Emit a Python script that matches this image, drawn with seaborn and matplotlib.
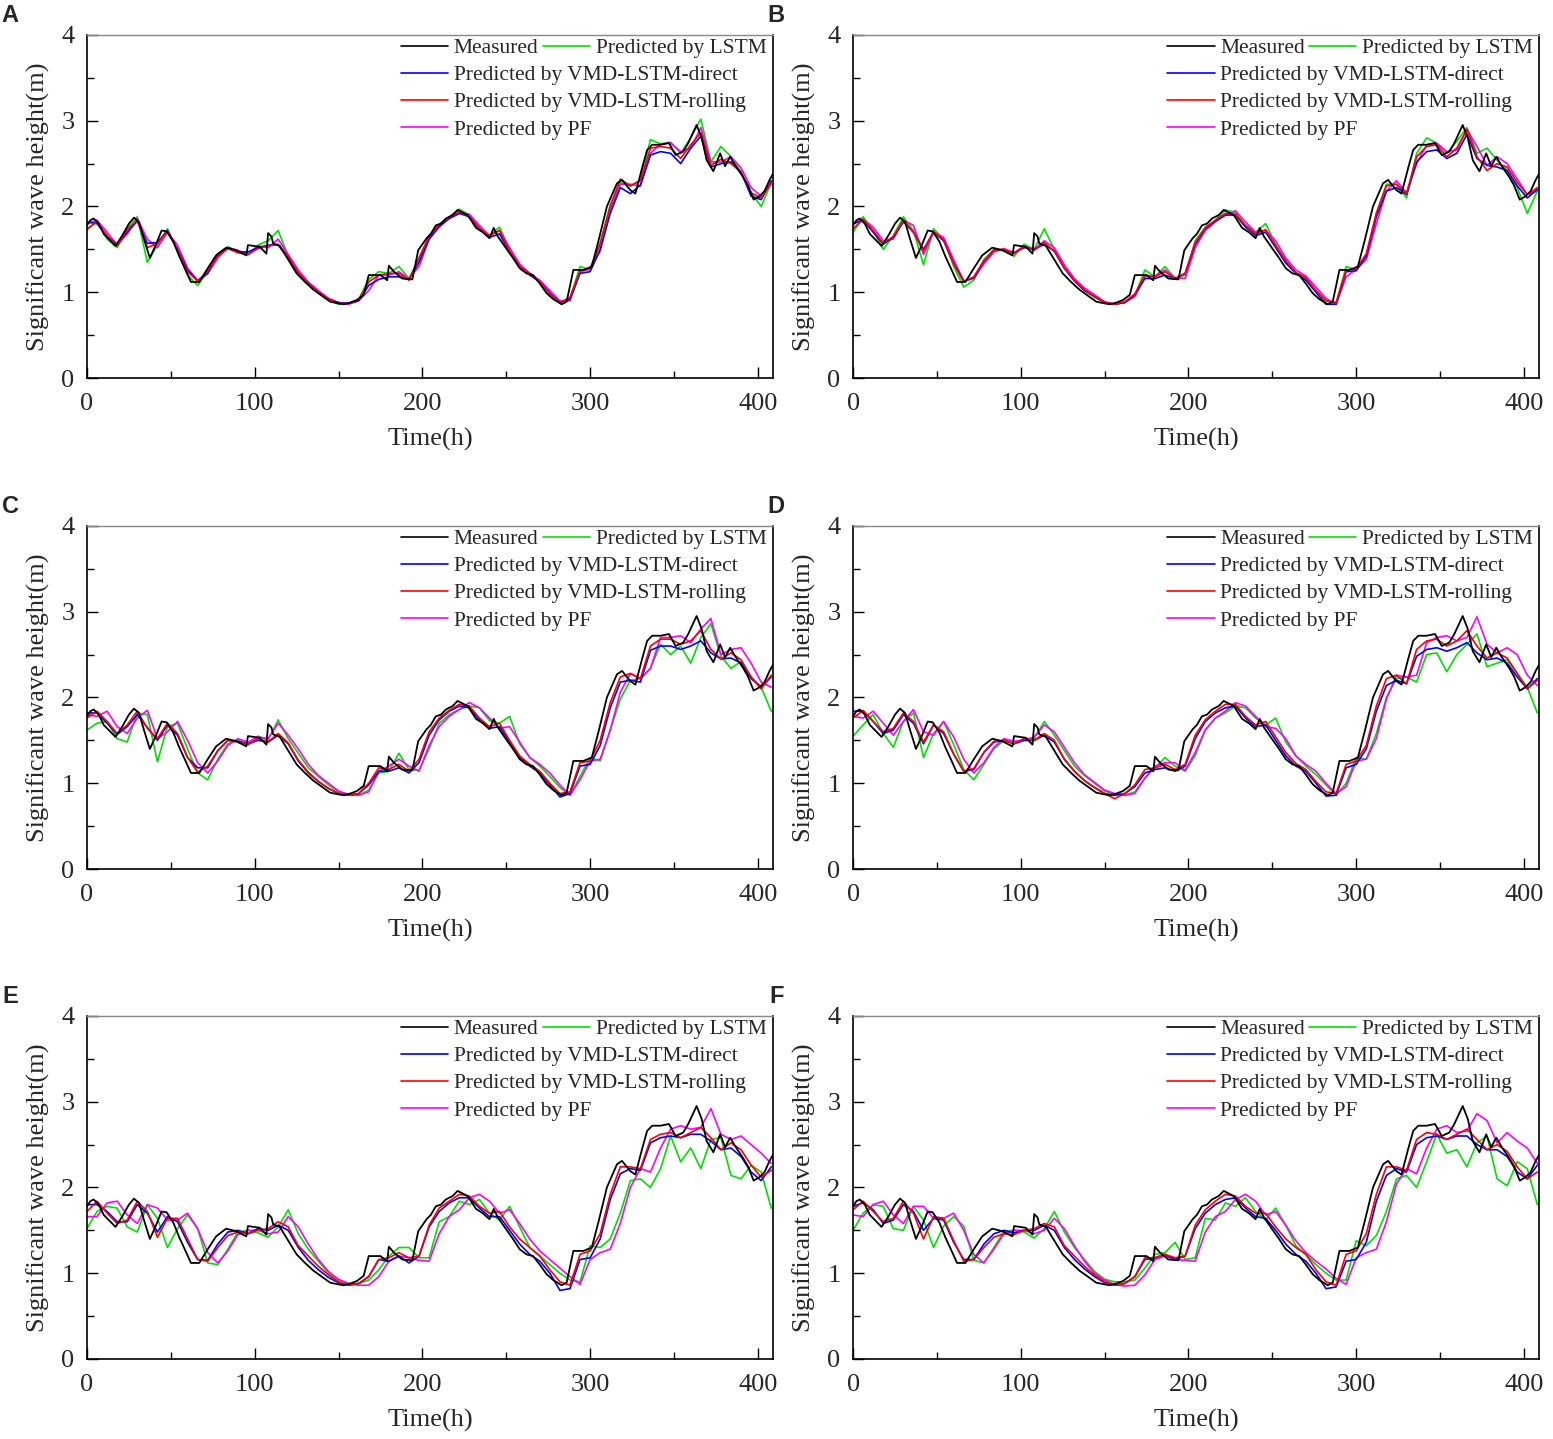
import numpy as np
import pandas as pd
import matplotlib
matplotlib.use("Agg")
import matplotlib.pyplot as plt
import seaborn as sns
from matplotlib.lines import Line2D
from matplotlib.ticker import MultipleLocator

# measured significant wave height (irregular knots)
OBS_T = [0, 2, 4, 7, 10, 13, 17, 21, 25, 28, 31, 34, 37.5, 41, 44.5, 47.5, 51.5, 55, 59, 62,
         67, 72, 77, 83, 89, 95, 96, 103, 107, 108, 110, 111, 115, 120, 125, 130, 135, 140, 145, 150,
         153, 157, 161, 165, 168, 175, 179, 180, 183, 188, 194, 197.5, 202.5, 205, 208, 211, 214, 218, 221, 224,
         227, 232, 236, 240, 242.5, 245, 250, 254, 258, 262, 266, 270, 274, 278, 283, 286, 290, 296, 301, 305,
         310, 316, 319, 324, 327, 331, 334, 337, 342, 347, 351, 355.5, 358.5, 363.5, 366.5, 369.5, 373.5, 377.5, 380.5, 383.5,
         386.5, 391, 394, 397.5, 401, 404, 407, 409]
OBS_V = [1.78, 1.84, 1.86, 1.80, 1.68, 1.62, 1.54, 1.66, 1.80, 1.87, 1.82, 1.62, 1.40, 1.55, 1.72, 1.71, 1.59, 1.42, 1.25, 1.12,
         1.12, 1.28, 1.43, 1.52, 1.49, 1.43, 1.55, 1.53, 1.45, 1.69, 1.65, 1.57, 1.54, 1.38, 1.22, 1.12, 1.03, 0.96, 0.89, 0.87,
         0.86, 0.88, 0.91, 0.97, 1.20, 1.20, 1.14, 1.31, 1.24, 1.16, 1.15, 1.49, 1.63, 1.68, 1.78, 1.80, 1.86, 1.90, 1.96, 1.93,
         1.90, 1.75, 1.70, 1.63, 1.75, 1.65, 1.51, 1.40, 1.28, 1.22, 1.20, 1.10, 0.99, 0.92, 0.86, 0.89, 1.26, 1.26, 1.30, 1.60,
         2.00, 2.27, 2.31, 2.19, 2.15, 2.45, 2.66, 2.72, 2.72, 2.74, 2.60, 2.64, 2.74, 2.95, 2.80, 2.54, 2.41, 2.62, 2.47, 2.58,
         2.48, 2.35, 2.25, 2.08, 2.12, 2.18, 2.31, 2.38]

# predictions, sampled every 6 h
HOURS = list(range(0, 409, 6))

A_LSTM = [1.72, 1.84, 1.62, 1.52, 1.74, 1.88, 1.35, 1.55, 1.74, 1.48, 1.20, 1.08, 1.24, 1.44, 1.53, 1.48, 1.44, 1.55, 1.60, 1.72,
          1.42, 1.22, 1.10, 0.99, 0.91, 0.86, 0.87, 0.92, 1.15, 1.24, 1.22, 1.30, 1.16, 1.40, 1.66, 1.79, 1.88, 1.97, 1.90, 1.76,
          1.66, 1.76, 1.50, 1.30, 1.22, 1.12, 0.98, 0.88, 0.93, 1.30, 1.26, 1.58, 2.02, 2.28, 2.24, 2.31, 2.78, 2.73, 2.75, 2.62,
          2.80, 3.02, 2.52, 2.70, 2.58, 2.40, 2.16, 2.00, 2.28]
A_DIRECT = [1.82, 1.80, 1.65, 1.56, 1.70, 1.83, 1.57, 1.58, 1.72, 1.50, 1.26, 1.13, 1.22, 1.45, 1.52, 1.47, 1.47, 1.52, 1.55, 1.55,
            1.40, 1.22, 1.10, 1.00, 0.92, 0.88, 0.87, 0.90, 1.08, 1.15, 1.18, 1.18, 1.15, 1.35, 1.62, 1.77, 1.86, 1.92, 1.88, 1.74,
            1.64, 1.68, 1.47, 1.30, 1.20, 1.12, 0.99, 0.88, 0.92, 1.22, 1.24, 1.50, 1.92, 2.22, 2.15, 2.25, 2.60, 2.64, 2.62, 2.50,
            2.68, 2.82, 2.46, 2.50, 2.52, 2.40, 2.12, 2.08, 2.30]
A_ROLLING = [1.74, 1.82, 1.66, 1.54, 1.73, 1.84, 1.52, 1.57, 1.71, 1.49, 1.24, 1.13, 1.25, 1.42, 1.51, 1.46, 1.44, 1.51, 1.54, 1.56,
             1.42, 1.23, 1.10, 1.00, 0.92, 0.87, 0.87, 0.91, 1.12, 1.20, 1.22, 1.22, 1.14, 1.40, 1.65, 1.79, 1.87, 1.94, 1.88, 1.74,
             1.66, 1.72, 1.48, 1.30, 1.22, 1.12, 0.98, 0.88, 0.94, 1.25, 1.28, 1.56, 2.00, 2.32, 2.24, 2.30, 2.68, 2.70, 2.68, 2.56,
             2.72, 2.86, 2.48, 2.55, 2.50, 2.40, 2.16, 2.10, 2.28]
A_PF = [1.80, 1.84, 1.70, 1.55, 1.68, 1.86, 1.62, 1.52, 1.70, 1.55, 1.28, 1.14, 1.22, 1.40, 1.52, 1.49, 1.44, 1.54, 1.52, 1.62,
        1.44, 1.26, 1.12, 1.02, 0.93, 0.88, 0.86, 0.90, 1.02, 1.20, 1.20, 1.24, 1.16, 1.30, 1.62, 1.76, 1.86, 1.92, 1.91, 1.78,
        1.66, 1.72, 1.52, 1.33, 1.22, 1.14, 1.02, 0.90, 0.90, 1.24, 1.27, 1.48, 1.95, 2.26, 2.26, 2.24, 2.62, 2.73, 2.74, 2.64,
        2.68, 2.92, 2.52, 2.52, 2.58, 2.45, 2.22, 2.12, 2.26]

B_LSTM = [1.70, 1.88, 1.72, 1.50, 1.66, 1.88, 1.72, 1.32, 1.74, 1.62, 1.30, 1.06, 1.14, 1.38, 1.50, 1.50, 1.42, 1.56, 1.50, 1.74,
          1.50, 1.28, 1.14, 1.02, 0.94, 0.88, 0.86, 0.88, 0.96, 1.26, 1.18, 1.30, 1.16, 1.20, 1.60, 1.76, 1.84, 1.96, 1.93, 1.78,
          1.70, 1.80, 1.56, 1.36, 1.22, 1.16, 1.02, 0.90, 0.87, 1.30, 1.26, 1.42, 1.92, 2.26, 2.26, 2.10, 2.62, 2.80, 2.74, 2.62,
          2.76, 2.92, 2.62, 2.68, 2.54, 2.42, 2.22, 1.92, 2.18]
B_DIRECT = [1.80, 1.84, 1.70, 1.56, 1.64, 1.82, 1.70, 1.50, 1.70, 1.60, 1.34, 1.13, 1.17, 1.36, 1.49, 1.49, 1.46, 1.52, 1.50, 1.56,
            1.48, 1.28, 1.13, 1.02, 0.95, 0.88, 0.86, 0.88, 0.97, 1.16, 1.16, 1.20, 1.16, 1.22, 1.56, 1.74, 1.83, 1.90, 1.90, 1.76,
            1.66, 1.70, 1.52, 1.34, 1.22, 1.14, 1.00, 0.86, 0.86, 1.24, 1.25, 1.42, 1.88, 2.18, 2.22, 2.14, 2.52, 2.64, 2.66, 2.56,
            2.62, 2.84, 2.56, 2.48, 2.46, 2.42, 2.24, 2.10, 2.20]
B_ROLLING = [1.74, 1.85, 1.72, 1.57, 1.65, 1.84, 1.70, 1.48, 1.71, 1.61, 1.33, 1.12, 1.18, 1.37, 1.49, 1.50, 1.45, 1.53, 1.49, 1.58,
             1.48, 1.28, 1.14, 1.03, 0.95, 0.88, 0.86, 0.89, 0.98, 1.20, 1.18, 1.24, 1.16, 1.22, 1.58, 1.75, 1.84, 1.92, 1.91, 1.78,
             1.68, 1.73, 1.54, 1.37, 1.23, 1.17, 1.02, 0.90, 0.88, 1.26, 1.27, 1.45, 1.92, 2.24, 2.26, 2.15, 2.58, 2.70, 2.72, 2.58,
             2.68, 2.90, 2.58, 2.42, 2.50, 2.46, 2.28, 2.14, 2.22]
B_PF = [1.80, 1.85, 1.76, 1.60, 1.62, 1.84, 1.78, 1.44, 1.70, 1.64, 1.38, 1.13, 1.16, 1.33, 1.47, 1.51, 1.46, 1.54, 1.50, 1.60,
        1.52, 1.32, 1.16, 1.05, 0.97, 0.89, 0.86, 0.88, 0.95, 1.18, 1.19, 1.26, 1.17, 1.16, 1.52, 1.72, 1.82, 1.90, 1.95, 1.82,
        1.70, 1.72, 1.60, 1.40, 1.26, 1.19, 1.06, 0.93, 0.86, 1.18, 1.27, 1.38, 1.80, 2.18, 2.30, 2.16, 2.50, 2.72, 2.74, 2.64,
        2.66, 2.90, 2.70, 2.48, 2.58, 2.50, 2.32, 2.14, 2.18]

C_LSTM = [1.62, 1.70, 1.72, 1.52, 1.48, 1.82, 1.80, 1.25, 1.66, 1.70, 1.40, 1.12, 1.04, 1.28, 1.46, 1.50, 1.45, 1.55, 1.50, 1.74,
          1.52, 1.35, 1.18, 1.08, 0.98, 0.90, 0.86, 0.86, 0.92, 1.12, 1.14, 1.35, 1.16, 1.15, 1.40, 1.70, 1.80, 1.86, 1.90, 1.88,
          1.73, 1.70, 1.78, 1.46, 1.30, 1.20, 1.08, 0.95, 0.86, 1.08, 1.30, 1.26, 1.62, 1.98, 2.20, 2.22, 2.34, 2.62, 2.50, 2.60,
          2.40, 2.70, 2.86, 2.48, 2.34, 2.42, 2.24, 2.12, 1.84]
C_DIRECT = [1.82, 1.82, 1.70, 1.57, 1.66, 1.80, 1.65, 1.50, 1.68, 1.56, 1.30, 1.18, 1.18, 1.38, 1.50, 1.49, 1.46, 1.50, 1.48, 1.56,
            1.46, 1.26, 1.12, 1.02, 0.94, 0.88, 0.86, 0.88, 0.98, 1.14, 1.14, 1.18, 1.12, 1.24, 1.56, 1.74, 1.84, 1.90, 1.88, 1.74,
            1.64, 1.66, 1.48, 1.30, 1.20, 1.12, 0.98, 0.84, 0.88, 1.20, 1.22, 1.44, 1.88, 2.18, 2.20, 2.18, 2.55, 2.60, 2.60, 2.56,
            2.60, 2.66, 2.52, 2.45, 2.46, 2.40, 2.22, 2.12, 2.24]
C_ROLLING = [1.76, 1.84, 1.72, 1.58, 1.68, 1.84, 1.64, 1.52, 1.70, 1.58, 1.30, 1.13, 1.20, 1.38, 1.50, 1.48, 1.45, 1.52, 1.48, 1.58,
             1.47, 1.27, 1.13, 1.02, 0.94, 0.88, 0.86, 0.88, 1.00, 1.18, 1.16, 1.22, 1.14, 1.28, 1.60, 1.76, 1.85, 1.92, 1.90, 1.76,
             1.66, 1.70, 1.50, 1.32, 1.22, 1.14, 1.00, 0.88, 0.90, 1.24, 1.26, 1.50, 1.94, 2.24, 2.28, 2.22, 2.60, 2.68, 2.68, 2.62,
             2.66, 2.78, 2.56, 2.45, 2.52, 2.44, 2.24, 2.10, 2.26]
C_PF = [1.80, 1.78, 1.84, 1.66, 1.58, 1.76, 1.85, 1.52, 1.60, 1.72, 1.50, 1.24, 1.12, 1.26, 1.44, 1.52, 1.48, 1.54, 1.52, 1.70,
        1.56, 1.40, 1.22, 1.09, 1.00, 0.91, 0.87, 0.86, 0.90, 1.14, 1.20, 1.28, 1.20, 1.14, 1.44, 1.66, 1.78, 1.86, 1.94, 1.88,
        1.76, 1.64, 1.66, 1.48, 1.30, 1.22, 1.12, 0.98, 0.86, 1.04, 1.26, 1.28, 1.62, 2.06, 2.28, 2.22, 2.34, 2.70, 2.70, 2.72,
        2.64, 2.80, 2.92, 2.50, 2.56, 2.58, 2.40, 2.18, 2.12]

D_LSTM = [1.55, 1.68, 1.80, 1.58, 1.42, 1.72, 1.82, 1.30, 1.58, 1.72, 1.45, 1.16, 1.04, 1.22, 1.40, 1.50, 1.46, 1.52, 1.52, 1.72,
          1.56, 1.38, 1.20, 1.09, 1.00, 0.91, 0.87, 0.86, 0.90, 1.06, 1.18, 1.30, 1.20, 1.14, 1.32, 1.62, 1.76, 1.82, 1.90, 1.88,
          1.76, 1.68, 1.76, 1.48, 1.32, 1.20, 1.10, 0.98, 0.86, 1.00, 1.30, 1.28, 1.58, 2.00, 2.22, 2.24, 2.18, 2.50, 2.52, 2.30,
          2.50, 2.62, 2.74, 2.36, 2.40, 2.44, 2.28, 2.12, 1.82]
D_DIRECT = [1.84, 1.84, 1.72, 1.58, 1.62, 1.80, 1.70, 1.46, 1.68, 1.58, 1.34, 1.14, 1.16, 1.36, 1.48, 1.50, 1.46, 1.50, 1.50, 1.56,
            1.48, 1.28, 1.14, 1.03, 0.95, 0.88, 0.86, 0.88, 0.96, 1.12, 1.16, 1.18, 1.14, 1.20, 1.52, 1.72, 1.82, 1.88, 1.90, 1.76,
            1.66, 1.68, 1.50, 1.32, 1.20, 1.14, 1.00, 0.85, 0.86, 1.18, 1.22, 1.40, 1.84, 2.14, 2.20, 2.16, 2.48, 2.56, 2.58, 2.54,
            2.58, 2.64, 2.52, 2.44, 2.46, 2.40, 2.24, 2.10, 2.22]
D_ROLLING = [1.76, 1.85, 1.72, 1.60, 1.64, 1.82, 1.72, 1.48, 1.68, 1.60, 1.34, 1.14, 1.17, 1.36, 1.49, 1.50, 1.46, 1.52, 1.50, 1.58,
             1.50, 1.28, 1.14, 1.03, 0.95, 0.88, 0.82, 0.88, 0.98, 1.16, 1.18, 1.22, 1.16, 1.22, 1.56, 1.74, 1.84, 1.92, 1.92, 1.78,
             1.68, 1.72, 1.54, 1.36, 1.23, 1.16, 1.02, 0.90, 0.88, 1.22, 1.26, 1.44, 1.90, 2.22, 2.26, 2.16, 2.56, 2.66, 2.68, 2.60,
             2.66, 2.78, 2.60, 2.46, 2.52, 2.46, 2.28, 2.10, 2.20]
D_PF = [1.78, 1.76, 1.84, 1.70, 1.56, 1.72, 1.86, 1.60, 1.56, 1.72, 1.54, 1.28, 1.12, 1.24, 1.42, 1.52, 1.49, 1.50, 1.54, 1.68,
        1.60, 1.42, 1.24, 1.10, 1.01, 0.92, 0.88, 0.86, 0.88, 1.06, 1.20, 1.24, 1.24, 1.15, 1.36, 1.62, 1.76, 1.84, 1.94, 1.90,
        1.78, 1.66, 1.64, 1.52, 1.32, 1.22, 1.14, 1.00, 0.88, 0.96, 1.26, 1.28, 1.52, 1.98, 2.26, 2.24, 2.26, 2.64, 2.70, 2.72,
        2.66, 2.70, 2.94, 2.62, 2.52, 2.58, 2.50, 2.26, 2.14]

E_LSTM = [1.52, 1.72, 1.78, 1.76, 1.54, 1.48, 1.80, 1.64, 1.30, 1.52, 1.68, 1.52, 1.12, 1.10, 1.28, 1.48, 1.50, 1.47, 1.42, 1.54,
          1.74, 1.46, 1.28, 1.14, 1.00, 0.92, 0.88, 0.88, 0.92, 1.04, 1.20, 1.30, 1.30, 1.18, 1.18, 1.60, 1.66, 1.84, 1.80, 1.86,
          1.70, 1.62, 1.78, 1.54, 1.30, 1.20, 1.10, 1.00, 0.92, 0.90, 1.32, 1.30, 1.40, 1.70, 2.08, 2.10, 2.00, 2.22, 2.60, 2.30,
          2.46, 2.22, 2.56, 2.58, 2.14, 2.10, 2.26, 2.18, 1.76]
E_DIRECT = [1.80, 1.80, 1.72, 1.60, 1.60, 1.80, 1.70, 1.48, 1.66, 1.60, 1.36, 1.16, 1.15, 1.34, 1.48, 1.50, 1.46, 1.52, 1.50, 1.56,
            1.50, 1.30, 1.15, 1.04, 0.95, 0.89, 0.86, 0.88, 0.96, 1.16, 1.14, 1.20, 1.12, 1.20, 1.54, 1.72, 1.82, 1.88, 1.88, 1.76,
            1.66, 1.66, 1.50, 1.34, 1.22, 1.14, 1.00, 0.80, 0.82, 1.16, 1.18, 1.40, 1.86, 2.16, 2.22, 2.20, 2.52, 2.58, 2.60, 2.58,
            2.62, 2.62, 2.54, 2.44, 2.46, 2.36, 2.18, 2.08, 2.24]
E_ROLLING = [1.72, 1.84, 1.70, 1.58, 1.62, 1.84, 1.72, 1.42, 1.64, 1.64, 1.40, 1.16, 1.14, 1.30, 1.44, 1.48, 1.46, 1.50, 1.52, 1.60,
             1.54, 1.32, 1.20, 1.08, 0.98, 0.90, 0.86, 0.88, 0.96, 1.16, 1.18, 1.24, 1.18, 1.20, 1.56, 1.76, 1.84, 1.92, 1.90, 1.78,
             1.70, 1.72, 1.54, 1.40, 1.30, 1.20, 1.04, 0.90, 0.86, 1.22, 1.26, 1.46, 1.92, 2.24, 2.24, 2.22, 2.56, 2.62, 2.64, 2.58,
             2.64, 2.70, 2.58, 2.44, 2.52, 2.44, 2.26, 2.12, 2.20]
E_PF = [1.66, 1.66, 1.82, 1.84, 1.68, 1.58, 1.80, 1.76, 1.62, 1.62, 1.70, 1.52, 1.24, 1.12, 1.26, 1.45, 1.50, 1.50, 1.46, 1.48,
        1.66, 1.54, 1.34, 1.16, 1.02, 0.93, 0.88, 0.86, 0.86, 0.96, 1.14, 1.20, 1.18, 1.15, 1.14, 1.46, 1.66, 1.74, 1.88, 1.92,
        1.84, 1.70, 1.74, 1.58, 1.40, 1.26, 1.16, 1.06, 0.96, 0.87, 1.16, 1.24, 1.28, 1.58, 2.00, 2.22, 2.18, 2.46, 2.68, 2.72,
        2.68, 2.70, 2.92, 2.62, 2.56, 2.60, 2.50, 2.40, 2.28]

F_LSTM = [1.50, 1.70, 1.80, 1.78, 1.52, 1.50, 1.78, 1.62, 1.30, 1.55, 1.66, 1.55, 1.15, 1.12, 1.30, 1.49, 1.50, 1.48, 1.41, 1.52,
          1.72, 1.48, 1.30, 1.16, 1.02, 0.93, 0.90, 0.90, 0.92, 1.06, 1.22, 1.24, 1.36, 1.16, 1.18, 1.64, 1.62, 1.82, 1.78, 1.88,
          1.72, 1.62, 1.76, 1.56, 1.32, 1.22, 1.10, 1.00, 0.92, 0.92, 1.38, 1.32, 1.44, 1.72, 2.10, 2.14, 2.00, 2.30, 2.62, 2.40,
          2.44, 2.24, 2.52, 2.60, 2.10, 2.02, 2.30, 2.22, 1.80]
F_DIRECT = [1.78, 1.82, 1.74, 1.58, 1.62, 1.80, 1.72, 1.50, 1.64, 1.62, 1.36, 1.16, 1.16, 1.34, 1.46, 1.50, 1.47, 1.50, 1.50, 1.56,
            1.50, 1.30, 1.16, 1.05, 0.96, 0.89, 0.86, 0.88, 0.96, 1.16, 1.18, 1.22, 1.16, 1.20, 1.52, 1.70, 1.80, 1.86, 1.88, 1.76,
            1.66, 1.64, 1.50, 1.34, 1.22, 1.14, 1.00, 0.82, 0.84, 1.14, 1.16, 1.36, 1.84, 2.14, 2.22, 2.18, 2.50, 2.58, 2.60, 2.56,
            2.60, 2.60, 2.50, 2.44, 2.44, 2.36, 2.18, 2.10, 2.26]
F_ROLLING = [1.74, 1.84, 1.72, 1.60, 1.64, 1.84, 1.70, 1.40, 1.66, 1.64, 1.38, 1.14, 1.16, 1.30, 1.42, 1.46, 1.45, 1.50, 1.52, 1.58,
             1.54, 1.32, 1.20, 1.08, 0.98, 0.90, 0.86, 0.88, 0.96, 1.18, 1.18, 1.22, 1.18, 1.20, 1.56, 1.74, 1.84, 1.92, 1.90, 1.78,
             1.70, 1.70, 1.54, 1.40, 1.30, 1.22, 1.04, 0.90, 0.86, 1.22, 1.26, 1.46, 1.92, 2.24, 2.24, 2.20, 2.56, 2.64, 2.62, 2.56,
             2.62, 2.68, 2.56, 2.44, 2.50, 2.42, 2.24, 2.10, 2.18]
F_PF = [1.68, 1.66, 1.80, 1.84, 1.68, 1.58, 1.78, 1.78, 1.64, 1.64, 1.70, 1.50, 1.22, 1.12, 1.28, 1.46, 1.50, 1.50, 1.46, 1.50,
        1.64, 1.52, 1.32, 1.14, 1.00, 0.92, 0.87, 0.85, 0.86, 0.98, 1.16, 1.20, 1.16, 1.15, 1.14, 1.48, 1.66, 1.72, 1.86, 1.92,
        1.84, 1.68, 1.72, 1.56, 1.38, 1.24, 1.14, 1.05, 0.94, 0.87, 1.18, 1.24, 1.28, 1.60, 2.04, 2.22, 2.16, 2.46, 2.68, 2.72,
        2.64, 2.66, 2.86, 2.78, 2.52, 2.64, 2.54, 2.46, 2.28]

PANELS = ["A", "B", "C", "D", "E", "F"]
PRED = {
    "A": (A_LSTM, A_DIRECT, A_ROLLING, A_PF),
    "B": (B_LSTM, B_DIRECT, B_ROLLING, B_PF),
    "C": (C_LSTM, C_DIRECT, C_ROLLING, C_PF),
    "D": (D_LSTM, D_DIRECT, D_ROLLING, D_PF),
    "E": (E_LSTM, E_DIRECT, E_ROLLING, E_PF),
    "F": (F_LSTM, F_DIRECT, F_ROLLING, F_PF),
}
SERIES = ["Predicted by LSTM", "Predicted by VMD-LSTM-direct",
          "Predicted by VMD-LSTM-rolling", "Predicted by PF"]
COLORS = {"Measured": "#000000", "Predicted by LSTM": "#00E000",
          "Predicted by VMD-LSTM-direct": "#0000FF",
          "Predicted by VMD-LSTM-rolling": "#FF0000", "Predicted by PF": "#FF00FF"}

sns.set_theme(style="ticks")
plt.rcParams["font.family"] = ["Liberation Serif", "DejaVu Serif"]

fig = plt.figure(figsize=(15.53, 14.39), dpi=100)

# axes boxes in figure fraction (left, bottom, width, height)
lefts = [0.0560, 0.5493]
bottoms = [0.7373, 0.3961, 0.0556]
W, H = 0.4417, 0.2384

obs_df = pd.DataFrame({"t": OBS_T, "v": OBS_V})

for i, key in enumerate(PANELS):
    row, col = divmod(i, 2)
    ax = fig.add_axes([lefts[col], bottoms[row], W, H])

    rows = []
    for name, vals in zip(SERIES, PRED[key]):
        rows.append(pd.DataFrame({"t": HOURS, "v": vals, "series": name}))
    pred_df = pd.concat(rows, ignore_index=True)

    # draw order: LSTM, PF, direct, rolling, then measured on top
    for name in [SERIES[0], SERIES[3], SERIES[1], SERIES[2]]:
        sub = pred_df[pred_df["series"] == name]
        sns.lineplot(data=sub, x="t", y="v", color=COLORS[name], lw=1.2,
                     estimator=None, sort=False, ax=ax, legend=False)
    sns.lineplot(data=obs_df, x="t", y="v", color="black", lw=1.3,
                 estimator=None, sort=False, ax=ax, legend=False)

    ax.set_xlim(0, 409)
    ax.set_ylim(0, 4)
    ax.xaxis.set_major_locator(MultipleLocator(100))
    ax.xaxis.set_minor_locator(MultipleLocator(50))
    ax.yaxis.set_major_locator(MultipleLocator(1))
    ax.yaxis.set_minor_locator(MultipleLocator(0.5))
    ax.tick_params(which="both", direction="in", top=False, right=False,
                   labelsize=19, width=1.0, color="black")
    ax.tick_params(axis="x", pad=11)
    ax.tick_params(axis="y", pad=9)
    ax.tick_params(which="major", length=8)
    ax.tick_params(which="minor", length=5)
    for s in ["left", "bottom", "right"]:
        ax.spines[s].set_color("black")
        ax.spines[s].set_linewidth(1.2)
    ax.spines["top"].set_color("#888888")
    ax.spines["top"].set_linewidth(1.0)

    ax.set_xlabel("Time(h)", fontsize=19, labelpad=9)
    ax.set_ylabel("Significant wave height(m)", fontsize=19, labelpad=8)

    # legend: first row has two entries, then one per row
    h = {n: Line2D([], [], color=c, lw=1.2) for n, c in COLORS.items()}
    leg1 = ax.legend([h["Measured"], h[SERIES[0]]], ["Measured", SERIES[0]],
                     ncol=2, loc="upper left", bbox_to_anchor=(0.458, 0.99),
                     frameon=False, fontsize=15.5, handlelength=2.2,
                     handletextpad=0.25, columnspacing=0.2, borderpad=0,
                     borderaxespad=0)
    ax.add_artist(leg1)
    ax.legend([h[n] for n in SERIES[1:]], SERIES[1:], loc="upper left",
              bbox_to_anchor=(0.458, 0.912), frameon=False, fontsize=15.5,
              handlelength=2.2, handletextpad=0.25, labelspacing=0.33,
              borderpad=0, borderaxespad=0)

    fig.text(lefts[col] - 0.0495, bottoms[row] + H + 0.0135, key,
             fontsize=17, fontweight="bold", family="Liberation Sans",
             ha="center", va="center")

fig.savefig("out.png", dpi=100)
